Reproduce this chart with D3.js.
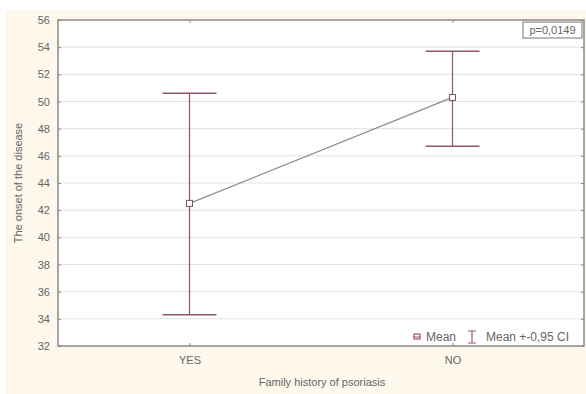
<!DOCTYPE html>
<html lang="en">
<head>
<meta charset="UTF-8" />
<title>Onset of disease by family history</title>
<script src="https://cdn.jsdelivr.net/npm/d3@7/dist/d3.min.js"></script>
<style>
    body { margin: 0; padding: 0; background: #fff; }
    text { font-family: "Liberation Sans", Arial, sans-serif; fill: #666; }
</style>
</head>
<body>
<svg width="586" height="394"></svg>
<script>
var categories = ['YES', 'NO'];
var means = [42.5, 50.3];
var upper = [50.6, 53.7];
var lower = [34.3, 46.7];
var yTicks = [32, 34, 36, 38, 40, 42, 44, 46, 48, 50, 52, 54, 56];

var svg = d3.select('svg'),
    width = +svg.attr('width'),
    height = +svg.attr('height');

var margin = { top: 20, right: 2, bottom: 48, left: 58 };
var w = width - margin.left - margin.right,
    h = height - margin.top - margin.bottom;

// cream page background
svg.append('rect')
    .attr('x', 5).attr('y', 10)
    .attr('width', width - 5).attr('height', height - 10)
    .attr('fill', '#fdf7ec');

var g = svg.append('g')
    .attr('transform', 'translate(' + margin.left + ',' + margin.top + ')');

g.append('rect')
    .attr('width', w).attr('height', h)
    .attr('fill', '#fff');

var x = d3.scalePoint().domain(categories).range([0, w]).padding(0.5);
var y = d3.scaleLinear().domain([32, 56]).range([h, 0]);

// gridlines
g.selectAll('.grid')
    .data(yTicks.slice(1, -1))
    .enter().append('line')
    .attr('x1', 0).attr('x2', w)
    .attr('y1', d => y(d)).attr('y2', d => y(d))
    .attr('stroke', '#e2e2e2');

// frame
g.append('rect')
    .attr('width', w).attr('height', h)
    .attr('fill', 'none')
    .attr('stroke', '#8a8a8a')
    .attr('stroke-width', 1.5);

// y axis
var yAxis = g.append('g')
    .call(d3.axisLeft(y).tickValues(yTicks).tickSize(-3).tickPadding(8));
yAxis.select('.domain').remove();
yAxis.selectAll('line').attr('stroke', '#888');
yAxis.selectAll('text').attr('font-size', 11).attr('fill', '#666');

var yAxisR = g.append('g')
    .attr('transform', 'translate(' + w + ',0)')
    .call(d3.axisRight(y).tickValues(yTicks).tickSize(-3).tickFormat(''));
yAxisR.select('.domain').remove();
yAxisR.selectAll('line').attr('stroke', '#888');

// x axis
var xAxis = g.append('g')
    .attr('transform', 'translate(0,' + h + ')')
    .call(d3.axisBottom(x).tickSize(-3).tickPadding(10));
xAxis.select('.domain').remove();
xAxis.selectAll('line').attr('stroke', '#888');
xAxis.selectAll('text').attr('font-size', 11).attr('fill', '#666');

var xAxisT = g.append('g')
    .call(d3.axisTop(x).tickSize(-3).tickFormat(''));
xAxisT.select('.domain').remove();
xAxisT.selectAll('line').attr('stroke', '#888');

// axis titles
svg.append('text')
    .attr('transform', 'translate(22,' + (margin.top + h / 2) + ') rotate(-90)')
    .attr('text-anchor', 'middle')
    .attr('font-size', 11)
    .text('The onset of the disease');

svg.append('text')
    .attr('x', 322).attr('y', 386)
    .attr('text-anchor', 'middle')
    .attr('font-size', 11)
    .text('Family history of psoriasis');

// error bars
var barColor = '#a0566e';
var capHalf = 27;
var bars = g.selectAll('.bar')
    .data(categories)
    .enter().append('g');

bars.append('line')
    .attr('x1', d => x(d)).attr('x2', d => x(d))
    .attr('y1', (d, i) => y(upper[i])).attr('y2', (d, i) => y(lower[i]))
    .attr('stroke', barColor).attr('stroke-width', 1.3);
bars.append('line')
    .attr('x1', d => x(d) - capHalf).attr('x2', d => x(d) + capHalf)
    .attr('y1', (d, i) => y(upper[i])).attr('y2', (d, i) => y(upper[i]))
    .attr('stroke', '#8a5a68').attr('stroke-width', 1.5);
bars.append('line')
    .attr('x1', d => x(d) - capHalf).attr('x2', d => x(d) + capHalf)
    .attr('y1', (d, i) => y(lower[i])).attr('y2', (d, i) => y(lower[i]))
    .attr('stroke', '#8a5a68').attr('stroke-width', 1.5);

// mean line
var line = d3.line()
    .x((d, i) => x(categories[i]))
    .y(d => y(d));
g.append('path')
    .datum(means)
    .attr('d', line)
    .attr('fill', 'none')
    .attr('stroke', '#8c8c8c')
    .attr('stroke-width', 1.3);

g.selectAll('.pt')
    .data(means)
    .enter().append('rect')
    .attr('x', (d, i) => x(categories[i]) - 3)
    .attr('y', d => y(d) - 3)
    .attr('width', 6).attr('height', 6)
    .attr('fill', '#fff')
    .attr('stroke', '#6e5a60').attr('stroke-width', 1);

// p-value box
var pg = g.append('g').attr('transform', 'translate(' + (w - 61) + ',2)');
pg.append('rect')
    .attr('width', 59).attr('height', 16)
    .attr('fill', '#fff')
    .attr('stroke', '#777').attr('stroke-width', 1);
pg.append('text')
    .attr('x', 29.5).attr('y', 12)
    .attr('text-anchor', 'middle')
    .attr('font-size', 11)
    .attr('fill', '#555')
    .text('p=0,0149');

// legend
var lg = g.append('g').attr('transform', 'translate(' + (w - 170) + ',' + (h - 9) + ')');
lg.append('rect')
    .attr('x', 0).attr('y', -3).attr('width', 6).attr('height', 5)
    .attr('fill', '#fff').attr('stroke', barColor).attr('stroke-width', 1.2);
lg.append('line')
    .attr('x1', -1).attr('x2', 7).attr('y1', 0).attr('y2', 0)
    .attr('stroke', barColor);
lg.append('text')
    .attr('x', 12).attr('y', 4).attr('font-size', 12)
    .text('Mean');
lg.append('path')
    .attr('d', 'M54,-6H62M58,-6V6M54,6H62')
    .attr('fill', 'none')
    .attr('stroke', barColor).attr('stroke-width', 1.2);
lg.append('text')
    .attr('x', 72).attr('y', 4).attr('font-size', 12)
    .text('Mean +-0,95 CI');
</script>
</body>
</html>
